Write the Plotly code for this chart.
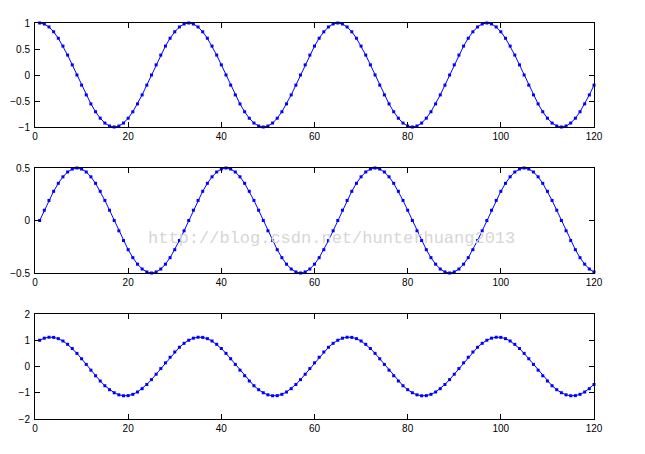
import plotly.graph_objects as go

# sample index
x_vals = list(range(1, 121))

# top: cosine (amplitude 1, period 32 samples)
y_top = [
    1, 0.981, 0.924, 0.831, 0.707, 0.556, 0.383, 0.195, 0, -0.195, -0.383, -0.556, -0.707, -0.831, -0.924, -0.981,
    -1, -0.981, -0.924, -0.831, -0.707, -0.556, -0.383, -0.195, 0, 0.195, 0.383, 0.556, 0.707, 0.831, 0.924, 0.981,
    1, 0.981, 0.924, 0.831, 0.707, 0.556, 0.383, 0.195, 0, -0.195, -0.383, -0.556, -0.707, -0.831, -0.924, -0.981,
    -1, -0.981, -0.924, -0.831, -0.707, -0.556, -0.383, -0.195, 0, 0.195, 0.383, 0.556, 0.707, 0.831, 0.924, 0.981,
    1, 0.981, 0.924, 0.831, 0.707, 0.556, 0.383, 0.195, 0, -0.195, -0.383, -0.556, -0.707, -0.831, -0.924, -0.981,
    -1, -0.981, -0.924, -0.831, -0.707, -0.556, -0.383, -0.195, 0, 0.195, 0.383, 0.556, 0.707, 0.831, 0.924, 0.981,
    1, 0.981, 0.924, 0.831, 0.707, 0.556, 0.383, 0.195, 0, -0.195, -0.383, -0.556, -0.707, -0.831, -0.924, -0.981,
    -1, -0.981, -0.924, -0.831, -0.707, -0.556, -0.383, -0.195,
]

# middle: half-amplitude sine
y_mid = [
    0, 0.098, 0.191, 0.278, 0.354, 0.416, 0.462, 0.490, 0.5, 0.490, 0.462, 0.416, 0.354, 0.278, 0.191, 0.098,
    0, -0.098, -0.191, -0.278, -0.354, -0.416, -0.462, -0.490, -0.5, -0.490, -0.462, -0.416, -0.354, -0.278, -0.191, -0.098,
    0, 0.098, 0.191, 0.278, 0.354, 0.416, 0.462, 0.490, 0.5, 0.490, 0.462, 0.416, 0.354, 0.278, 0.191, 0.098,
    0, -0.098, -0.191, -0.278, -0.354, -0.416, -0.462, -0.490, -0.5, -0.490, -0.462, -0.416, -0.354, -0.278, -0.191, -0.098,
    0, 0.098, 0.191, 0.278, 0.354, 0.416, 0.462, 0.490, 0.5, 0.490, 0.462, 0.416, 0.354, 0.278, 0.191, 0.098,
    0, -0.098, -0.191, -0.278, -0.354, -0.416, -0.462, -0.490, -0.5, -0.490, -0.462, -0.416, -0.354, -0.278, -0.191, -0.098,
    0, 0.098, 0.191, 0.278, 0.354, 0.416, 0.462, 0.490, 0.5, 0.490, 0.462, 0.416, 0.354, 0.278, 0.191, 0.098,
    0, -0.098, -0.191, -0.278, -0.354, -0.416, -0.462, -0.490,
]

# bottom: combined signal
y_bot = [
    1, 1.079, 1.115, 1.109, 1.061, 0.972, 0.845, 0.685, 0.5, 0.295, 0.079, -0.140, -0.353, -0.553, -0.733, -0.883,
    -1, -1.079, -1.115, -1.109, -1.061, -0.972, -0.845, -0.685, -0.5, -0.295, -0.079, 0.140, 0.353, 0.553, 0.733, 0.883,
    1, 1.079, 1.115, 1.109, 1.061, 0.972, 0.845, 0.685, 0.5, 0.295, 0.079, -0.140, -0.353, -0.553, -0.733, -0.883,
    -1, -1.079, -1.115, -1.109, -1.061, -0.972, -0.845, -0.685, -0.5, -0.295, -0.079, 0.140, 0.353, 0.553, 0.733, 0.883,
    1, 1.079, 1.115, 1.109, 1.061, 0.972, 0.845, 0.685, 0.5, 0.295, 0.079, -0.140, -0.353, -0.553, -0.733, -0.883,
    -1, -1.079, -1.115, -1.109, -1.061, -0.972, -0.845, -0.685, -0.5, -0.295, -0.079, 0.140, 0.353, 0.553, 0.733, 0.883,
    1, 1.079, 1.115, 1.109, 1.061, 0.972, 0.845, 0.685, 0.5, 0.295, 0.079, -0.140, -0.353, -0.553, -0.733, -0.883,
    -1, -1.079, -1.115, -1.109, -1.061, -0.972, -0.845, -0.685,
]

x_ticks = [0, 20, 40, 60, 80, 100, 120]
top_yticks = [-1, -0.5, 0, 0.5, 1]
mid_yticks = [-0.5, 0, 0.5]
bot_yticks = [-2, -1, 0, 1, 2]

# page body has an 8px margin; size the figure so it fits the 645x454 window
OFF = 8
W, H = 645 - OFF, 454 - OFF


def px_x(p):
    return (p - OFF) / W


def px_y(p):
    return 1 - (p - OFF) / H


x_dom = [px_x(35), px_x(594)]
doms = [
    [px_y(127), px_y(23)],
    [px_y(273), px_y(168)],
    [px_y(419), px_y(314)],
]

fig = go.Figure()
series = [y_top, y_mid, y_bot]
ranges = [[-1, 1], [-0.5, 0.5], [-2, 2]]
yticks = [top_yticks, mid_yticks, bot_yticks]

for i, ys in enumerate(series):
    n = "" if i == 0 else str(i + 1)
    fig.add_trace(go.Scatter(
        x=x_vals, y=ys, mode="lines+markers",
        line=dict(color="#0000FF", width=1),
        marker=dict(color="#0000FF", size=3, symbol="square"),
        xaxis="x" + n, yaxis="y" + n, showlegend=False, cliponaxis=False,
    ))

axis_common = dict(
    showline=True, linecolor="black", linewidth=1, mirror="allticks",
    ticks="inside", ticklen=5, tickcolor="black", showgrid=False, zeroline=False,
    automargin=False,
    tickfont=dict(family="Liberation Sans, Arial", size=10, color="black"),
)

layout = dict(
    width=W, height=H, margin=dict(l=0, r=0, t=0, b=0),
    paper_bgcolor="white", plot_bgcolor="white",
)
for i in range(3):
    n = "" if i == 0 else str(i + 1)
    layout["xaxis" + n] = dict(
        domain=x_dom, range=[0, 120], tickvals=x_ticks, anchor="y" + n,
        ticklabelstandoff=0, **axis_common,
    )
    layout["yaxis" + n] = dict(
        domain=doms[i], range=ranges[i], tickvals=yticks[i], anchor="x" + n,
        ticklabelstandoff=2, **axis_common,
    )
fig.update_layout(**layout)

fig.add_annotation(
    text="http://blog.csdn.net/hunterhuang2013", xref="paper", yref="paper",
    x=px_x(331), y=px_y(238), showarrow=False, xanchor="center", yanchor="middle",
    font=dict(family="Liberation Mono, Courier New, monospace", size=17, color="#d6d6d6"),
)

fig.write_html("out.html")
